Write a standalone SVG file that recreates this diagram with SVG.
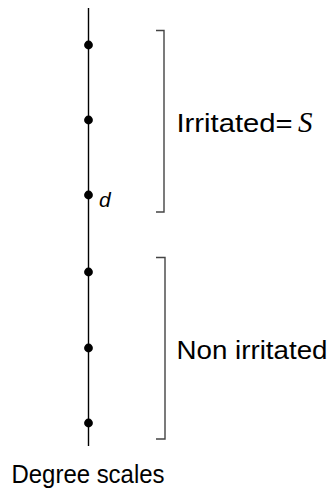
<svg xmlns="http://www.w3.org/2000/svg" width="333" height="490" viewBox="0 0 333 490">
<style>
.axis{stroke:#000;stroke-width:1.4;fill:none}
.dot{fill:#000}
.br{stroke:#444;stroke-width:1.4;fill:none}
.lbl{font-family:"Liberation Sans","DejaVu Sans",sans-serif;font-size:26px;fill:#000}
.it{font-family:"Liberation Sans","DejaVu Sans",sans-serif;font-style:italic;font-size:21px;fill:#000}
.cal{font-family:"Liberation Serif","DejaVu Serif",serif;font-style:italic;font-size:29px;fill:#000}
</style>
<rect width="333" height="490" fill="#fff"/>
<g id="connectors">
<line class="axis" x1="88.5" y1="8" x2="88.5" y2="446"/>
</g>
<g id="p1"><circle class="dot" cx="88.5" cy="45" r="4.4"/></g>
<g id="p2"><circle class="dot" cx="88.5" cy="120" r="4.4"/></g>
<g id="p3"><circle class="dot" cx="88.5" cy="195" r="4.4"/><text class="it" x="99" y="206.5">d</text></g>
<g id="p4"><circle class="dot" cx="88.5" cy="272" r="4.4"/></g>
<g id="p5"><circle class="dot" cx="88.5" cy="348" r="4.4"/></g>
<g id="p6"><circle class="dot" cx="88.5" cy="423" r="4.4"/></g>
<g id="bracket-irritated">
<path class="br" d="M156,30.5 H164 V212 H156"/>
<text class="lbl" x="176.5" y="131.5" textLength="116" lengthAdjust="spacingAndGlyphs">Irritated=</text>
<text class="cal" x="298" y="131.5">S</text>
</g>
<g id="bracket-non">
<path class="br" d="M156,257.5 H165 V439 H156"/>
<text class="lbl" x="176.5" y="359" textLength="151" lengthAdjust="spacingAndGlyphs">Non irritated</text>
</g>
<g id="caption">
<text class="lbl" x="11.5" y="483" textLength="153" lengthAdjust="spacingAndGlyphs">Degree scales</text>
</g>
</svg>
